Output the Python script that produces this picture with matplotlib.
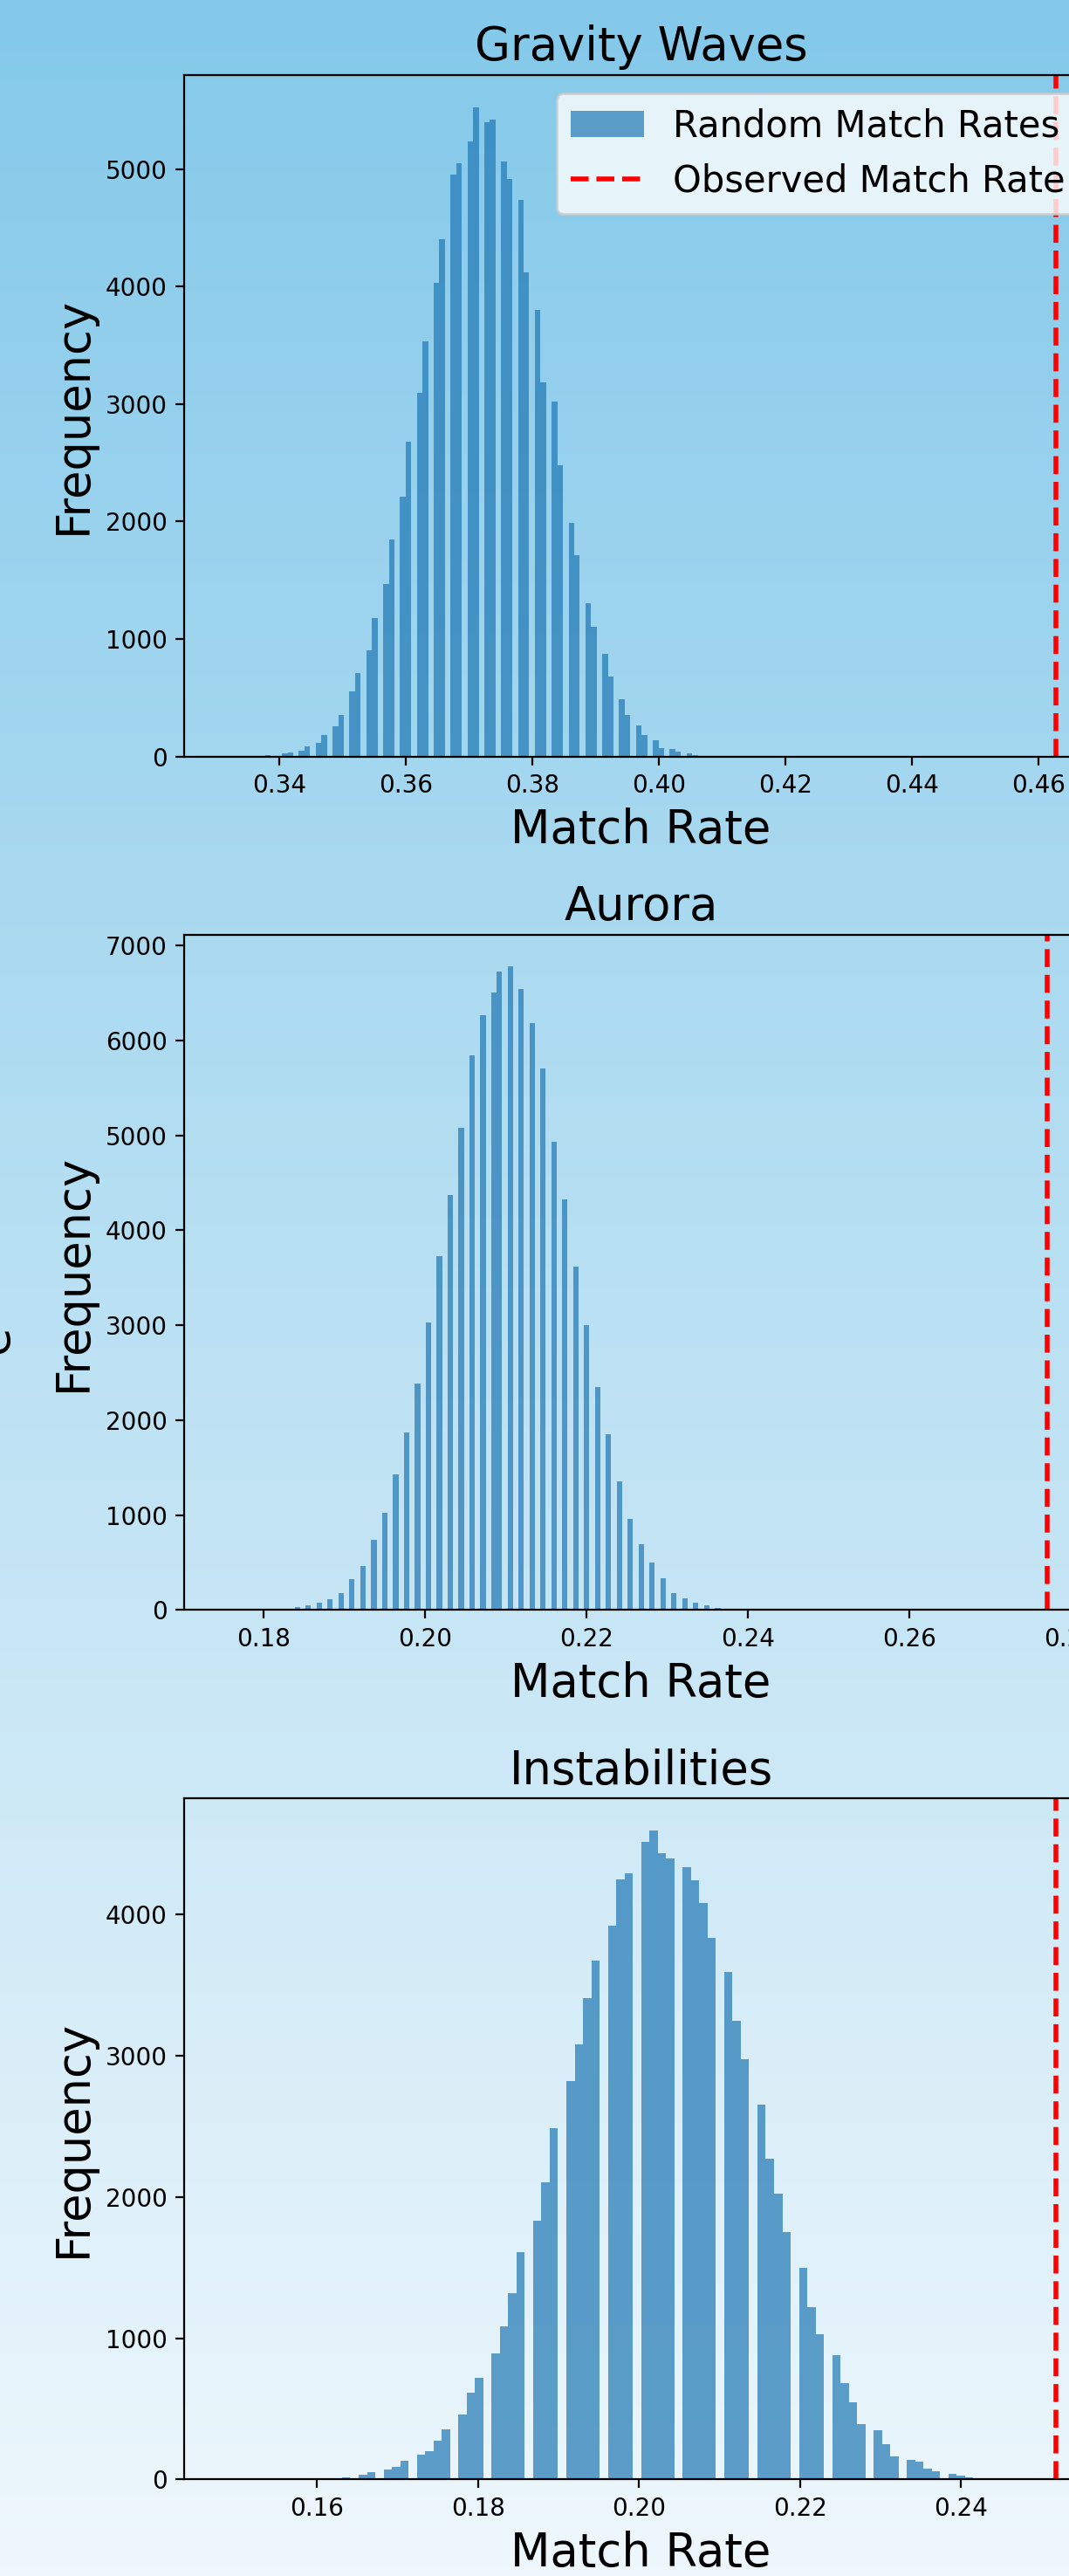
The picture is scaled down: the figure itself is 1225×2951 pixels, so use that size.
import numpy as np
import matplotlib
matplotlib.use("Agg")
import matplotlib.pyplot as plt
from matplotlib.colors import LinearSegmentedColormap

titles = ["Gravity Waves", "Aurora", "Instabilities"]

# histogram bin layout: first bin edge, bin width, number of bins
gw_bin_start, gw_bin_width = 0.33159, 0.000888
au_bin_start, au_bin_width = 0.18112, 0.000676
in_bin_start, in_bin_width = 0.14865, 0.001032
n_bins = 100

# non-empty bins (index) and their counts
gw_bin_index = [7, 10, 11, 13, 14, 16, 17, 19, 20, 22, 23, 25, 26, 28, 29, 31, 32, 34, 35,
                37, 38, 40, 41, 43, 44, 46, 47, 49, 50, 52, 53, 55, 56, 58, 59, 61, 62, 64,
                65, 67, 68, 70, 71, 73, 74, 76, 77, 79, 80, 82, 83, 85, 86]
gw_counts = [10, 24, 31, 51, 82, 113, 181, 260, 352, 553, 710, 902, 1178, 1468, 1844, 2210,
             2681, 3097, 3535, 4033, 4402, 4957, 5050, 5235, 5526, 5401, 5421, 5067, 4918,
             4736, 4119, 3801, 3186, 3019, 2479, 1991, 1711, 1301, 1106, 874, 683, 485, 352,
             263, 181, 137, 68, 65, 41, 24, 12, 5, 7]

au_bin_index = [0, 2, 4, 6, 8, 10, 12, 14, 16, 18, 20, 22, 24, 26, 28, 30, 32, 34, 36, 38, 40,
                41, 43, 45, 47, 49, 51, 53, 55, 57, 59, 61, 63, 65, 67, 69, 71, 73, 75, 77, 79,
                81, 83]
au_counts = [8, 10, 27, 45, 80, 116, 178, 326, 464, 736, 1021, 1431, 1873, 2386, 3032, 3732,
             4370, 5079, 5846, 6265, 6501, 6724, 6778, 6546, 6185, 5703, 4936, 4321, 3621,
             3005, 2350, 1855, 1356, 963, 696, 499, 334, 174, 120, 80, 45, 18, 12]

in_bin_index = [12, 14, 15, 16, 17, 19, 20, 21, 23, 24, 25, 26, 28, 29, 30, 32, 33, 34, 35, 37,
                38, 39, 41, 42, 43, 44, 46, 47, 48, 50, 51, 52, 53, 55, 56, 57, 58, 60, 61, 62,
                64, 65, 66, 67, 69, 70, 71, 73, 74, 75, 76, 78, 79, 80, 82, 83, 84, 85, 87, 88,
                89, 91, 92]
in_counts = [8, 14, 10, 33, 50, 69, 86, 130, 173, 199, 271, 357, 461, 613, 720, 895, 1083,
             1321, 1609, 1831, 2102, 2487, 2824, 3078, 3409, 3672, 3922, 4250, 4292, 4515,
             4593, 4435, 4400, 4337, 4244, 4082, 3835, 3596, 3245, 2977, 2652, 2269, 2024,
             1753, 1500, 1218, 1031, 878, 685, 547, 389, 348, 250, 164, 135, 127, 78, 60, 40,
             26, 14, 9, 9]

observed_rates = [0.4628, 0.27705, 0.2518]
x_limits = [(0.3250, 0.4694), (0.17013, 0.2833), (0.14348, 0.25698)]

W, H, DPI = 1225, 2951, 200
fig = plt.figure(figsize=(W / DPI, H / DPI), dpi=DPI)

# background gradient
bg = fig.add_axes([0, 0, 1, 1], zorder=-10)
cmap = LinearSegmentedColormap.from_list("sky", ["#84c9ea", "#eef7fc"])
bg.imshow(np.linspace(0, 1, 512).reshape(-1, 1), aspect="auto", cmap=cmap,
          extent=[0, 1, 0, 1], origin="upper")
bg.set_axis_off()

left = 211 / W
width = 1047 / W
panel_px = [(86, 866.5), (1070.5, 1844.3), (2060.3, 2840.3)]

panels = [
    (gw_bin_start, gw_bin_width, gw_bin_index, gw_counts),
    (au_bin_start, au_bin_width, au_bin_index, au_counts),
    (in_bin_start, in_bin_width, in_bin_index, in_counts),
]

for i, ((start, bw, idx, cnt), title, obs, xl, (top, bot)) in enumerate(
        zip(panels, titles, observed_rates, x_limits, panel_px)):
    ax = fig.add_axes([left, 1 - bot / H, width, (bot - top) / H])
    ax.set_facecolor("none")
    edges = start + bw * np.arange(n_bins + 1)
    centers = edges[np.array(idx)] + bw / 2
    ax.hist(centers, bins=edges, weights=cnt, color="#1f77b4", alpha=0.7,
            label="Random Match Rates")
    ax.axvline(obs, color="red", linestyle="--", linewidth=2,
               label="Observed Match Rate")
    ax.set_xlim(*xl)
    ax.set_title(title, fontsize=19)
    ax.set_xlabel("Match Rate", fontsize=19)
    ax.set_ylabel("Frequency", fontsize=19)
    ax.tick_params(labelsize=10)
    if i == 0:
        ax.legend(loc="upper right", fontsize=15)

# partially visible rotated label from the neighbouring panel
fig.text(20 / W, 1 - 1535 / H, "e", rotation=90, fontsize=19,
         ha="right", va="center")

fig.savefig("out.png", dpi=DPI)
